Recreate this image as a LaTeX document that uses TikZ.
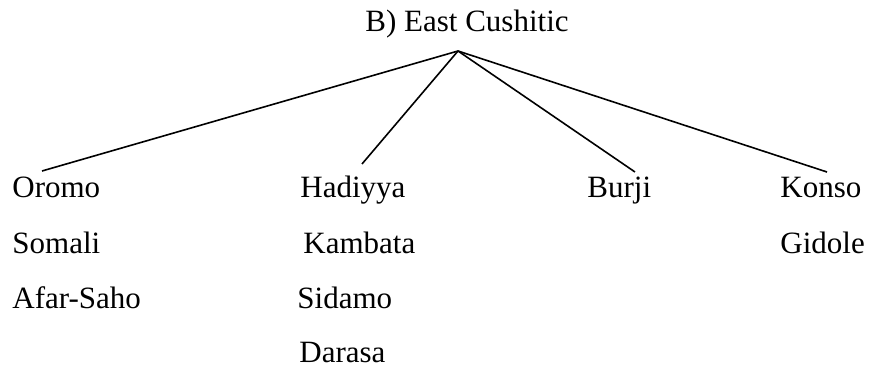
\documentclass[tikz,border=0pt]{standalone}
\usepackage{fontspec}
\setmainfont{Liberation Serif}
\usetikzlibrary{calc}

\tikzset{
	lang/.style={anchor=base west, inner sep=0pt, font=\fontsize{15.5}{18}\selectfont},
	branch/.style={line width=0.8pt}
}

\begin{document}
\begin{tikzpicture}[x=0.5pt,y=-0.5pt]
	\useasboundingbox (0,0) rectangle (869,368);

	% root
	\node[lang] (root) at (365,32) {B) East Cushitic};
	\coordinate (apex) at (458,51);

	% first row
	\node[lang] (oromo) at (12,198) {Oromo};
	\node[lang] (hadiyya) at (300,198) {Hadiyya};
	\node[lang] (burji) at (587,198) {Burji};
	\node[lang] (konso) at (780,198) {Konso};

	% further rows
	\node[lang] (somali) at (12,254) {Somali};
	\node[lang] (afar) at (12,309) {Afar-Saho};
	\node[lang] (kambata) at (303,254) {Kambata};
	\node[lang] (sidamo) at (297,309) {Sidamo};
	\node[lang] (darasa) at (299,363) {Darasa};
	\node[lang] (gidole) at (780,254) {Gidole};

	% branch ends
	\coordinate (oromo-end) at (42,171);
	\coordinate (hadiyya-end) at (362,164);
	\coordinate (burji-end) at (635,172);
	\coordinate (konso-end) at (827,172);

	\draw[branch] (apex) -- (oromo-end);
	\draw[branch] (apex) -- (hadiyya-end);
	\draw[branch] (apex) -- (burji-end);
	\draw[branch] (apex) -- (konso-end);
\end{tikzpicture}
\end{document}
